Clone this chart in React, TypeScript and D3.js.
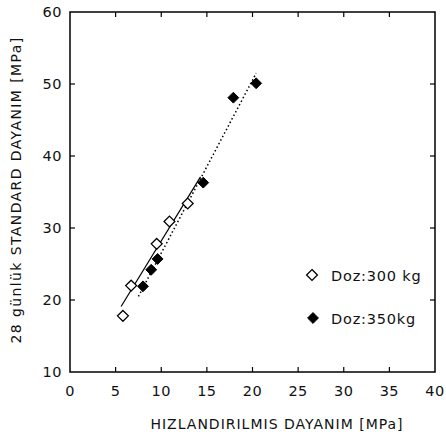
import React from "react";
import * as d3 from "d3";

const xTicks = [0, 5, 10, 15, 20, 25, 30, 35, 40];
const yTicks = [10, 20, 30, 40, 50, 60];

// Doz: 300 kg (open diamonds)
const dose300X = [5.8, 6.7, 9.5, 10.9, 12.9];
const dose300Y = [17.8, 22.0, 27.8, 30.9, 33.4];
// Doz: 350 kg (filled diamonds)
const dose350X = [8.0, 8.9, 9.6, 14.6, 17.9, 20.4];
const dose350Y = [21.9, 24.2, 25.7, 36.3, 48.1, 50.1];

// fitted lines (endpoints)
const fit300X = [5.6, 14.3];
const fit300Y = [19.1, 37.1];
const fit350X = [7.5, 20.4];
const fit350Y = [20.5, 51.5];

const legendLabels = ["Doz:300 kg", "Doz:350kg"];

const W = 446;
const H = 437;
const m = { left: 70, right: 435, top: 12, bottom: 372 };

export default function App() {
  const x = d3.scaleLinear().domain([0, 40]).range([m.left, m.right]);
  const y = d3.scaleLinear().domain([10, 60]).range([m.bottom, m.top]);
  const line = d3
    .line<[number, number]>()
    .x((d) => x(d[0]))
    .y((d) => y(d[1]));
  const diamond = d3.symbol().type(d3.symbolDiamond2).size(75)();
  const font = "'DejaVu Sans', sans-serif";
  const tl = 5;
  const fit300 = fit300X.map((v, i) => [v, fit300Y[i]] as [number, number]);
  const fit350 = fit350X.map((v, i) => [v, fit350Y[i]] as [number, number]);

  return (
    <svg
      width={W}
      height={H}
      style={{ position: "absolute", left: 0, top: 0, background: "#fff" }}
    >
      <rect x={0} y={0} width={W} height={H} fill="#fff" />
      {/* frame */}
      <rect
        x={m.left}
        y={m.top}
        width={m.right - m.left}
        height={m.bottom - m.top}
        fill="none"
        stroke="#000"
        strokeWidth={1.5}
      />
      {/* x ticks */}
      {xTicks.map((t) => (
        <g key={"x" + t}>
          {t > 0 && t < 40 && (
            <>
              <line x1={x(t)} x2={x(t)} y1={m.bottom} y2={m.bottom - tl} stroke="#000" strokeWidth={1.2} />
              <line x1={x(t)} x2={x(t)} y1={m.top} y2={m.top + tl} stroke="#000" strokeWidth={1.2} />
            </>
          )}
          <text
            x={x(t)}
            y={m.bottom + 24}
            textAnchor="middle"
            fontFamily={font}
            fontSize={14.5}
            letterSpacing={0.5}
            fill="#111"
          >
            {t}
          </text>
        </g>
      ))}
      {/* y ticks */}
      {yTicks.map((t) => (
        <g key={"y" + t}>
          {t > 10 && t < 60 && (
            <>
              <line x1={m.left} x2={m.left + tl} y1={y(t)} y2={y(t)} stroke="#000" strokeWidth={1.2} />
              <line x1={m.right} x2={m.right - tl} y1={y(t)} y2={y(t)} stroke="#000" strokeWidth={1.2} />
            </>
          )}
          <text
            x={m.left - 8}
            y={y(t) + 5}
            textAnchor="end"
            fontFamily={font}
            fontSize={14.5}
            letterSpacing={0.5}
            fill="#111"
          >
            {t}
          </text>
        </g>
      ))}
      {/* fitted lines */}
      <path d={line(fit300) || ""} fill="none" stroke="#000" strokeWidth={1.2} />
      <path
        d={line(fit350) || ""}
        fill="none"
        stroke="#000"
        strokeWidth={1.5}
        strokeDasharray="1.5 2.5"
      />
      {/* points */}
      {dose300X.map((v, i) => (
        <path
          key={"a" + i}
          d={diamond || ""}
          transform={`translate(${x(v)},${y(dose300Y[i])})`}
          fill="#fff"
          stroke="#000"
          strokeWidth={1.3}
        />
      ))}
      {dose350X.map((v, i) => (
        <path
          key={"b" + i}
          d={diamond || ""}
          transform={`translate(${x(v)},${y(dose350Y[i])})`}
          fill="#000"
          stroke="#000"
          strokeWidth={1}
        />
      ))}
      {/* legend */}
      <path d={diamond || ""} transform="translate(312,275)" fill="#fff" stroke="#000" strokeWidth={1.3} />
      <text x={331} y={281} fontFamily={font} fontSize={14.5} letterSpacing={0.8} fill="#111">
        {legendLabels[0]}
      </text>
      <path d={diamond || ""} transform="translate(313,318)" fill="#000" stroke="#000" strokeWidth={1} />
      <text x={331} y={324} fontFamily={font} fontSize={14.5} letterSpacing={0.8} fill="#111">
        {legendLabels[1]}
      </text>
      {/* axis titles */}
      <text
        x={277}
        y={429}
        textAnchor="middle"
        fontFamily={font}
        fontSize={14}
        letterSpacing={1}
        fill="#111"
      >
        HIZLANDIRILMIS DAYANIM [MPa]
      </text>
      <text
        transform={`translate(21,190) rotate(-90)`}
        textAnchor="middle"
        fontFamily={font}
        fontSize={14}
        letterSpacing={1.4}
        fill="#111"
      >
        28 günlük STANDARD DAYANIM [MPa]
      </text>
    </svg>
  );
}
